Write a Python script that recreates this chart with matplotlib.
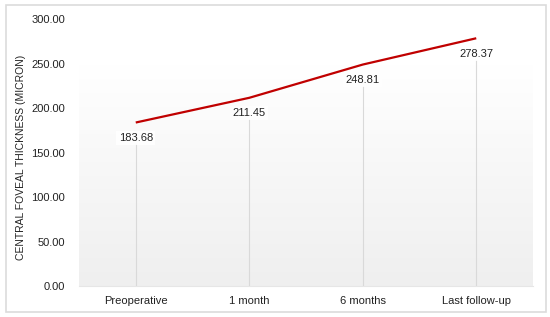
import numpy as np
import matplotlib
matplotlib.use("Agg")
import matplotlib.pyplot as plt
from matplotlib.patches import Rectangle
from matplotlib.colors import LinearSegmentedColormap

categories = ["Preoperative", "1 month", "6 months", "Last follow-up"]
values = [183.68, 211.45, 248.81, 278.37]
yticks = [0, 50, 100, 150, 200, 250, 300]

plt.rcParams['font.family'] = ['Liberation Sans', 'DejaVu Sans']

fig = plt.figure(figsize=(5.5, 3.17), dpi=100)
W, H = 550, 317
ax = fig.add_axes([79 / W, 1 - 286 / H, (533 - 79) / W, (286 - 19) / H])

# outer frame
fig.patches.append(Rectangle((6 / W, 5 / H), 540 / W, 307 / H, transform=fig.transFigure,
                             fill=False, edgecolor="#dcdcdc", linewidth=1.2))

x = np.arange(len(categories))
ax.set_xlim(-0.5, len(categories) - 0.5)
ax.set_ylim(0, 300)

# gradient background
grad = np.linspace(0, 1, 256).reshape(-1, 1)
cmap = LinearSegmentedColormap.from_list("g", ["#efefef", "#ffffff"])
ax.imshow(grad, extent=(-0.5, len(categories) - 0.5, 0, 248), origin="lower",
          cmap=cmap, aspect="auto", zorder=0)

# drop lines
for xi, v in zip(x, values):
    ax.plot([xi, xi], [0, v - 24], color="#d9d9d9", linewidth=0.8, zorder=1)

ax.plot(x, values, color="#c00000", linewidth=1.6, zorder=3, solid_capstyle="butt")

for xi, v in zip(x, values):
    ax.annotate(f"{v:.2f}", (xi, v), xytext=(0, -11), textcoords="offset points",
                ha="center", va="center", fontsize=8, color="#222222",
                bbox=dict(boxstyle="square,pad=0.2", fc="white", ec="none", alpha=0.85),
                zorder=4)

ax.set_yticks(yticks)
ax.set_yticklabels([f"{t:.2f}" for t in yticks], fontsize=8, color="#222222")
ax.set_xticks(x)
ax.set_xticklabels(categories, fontsize=8, color="#222222")
ax.tick_params(length=0, pad=10, axis="y")
ax.tick_params(length=0, pad=7, axis="x")
for s in ["top", "right", "left"]:
    ax.spines[s].set_visible(False)
ax.spines["bottom"].set_color("#e6e6e6")
ax.spines["bottom"].set_linewidth(0.8)

fig.text(21 / W, 1 - 157 / H, "CENTRAL FOVEAL THICKNESS (MICRON)", rotation=90,
         ha="center", va="center", fontsize=7.5, color="#222222")

fig.savefig("out.png", dpi=100)
